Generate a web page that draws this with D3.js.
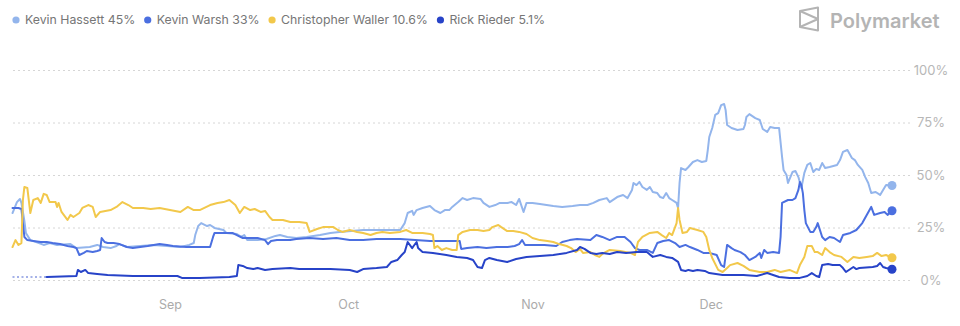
<!DOCTYPE html>
<html>
<head>
<meta charset="utf-8">
<script src="https://cdn.jsdelivr.net/npm/d3@7"></script>
<style>
  html, body { margin: 0; padding: 0; background: #fff; }
  svg { display: block; font-family: Inter, "Noto Sans", sans-serif; }
</style>
</head>
<body>
<svg id="chart" width="960" height="326"></svg>
<script>
// Chance of being nominated Fed chair, by candidate (percent), 2025.
const YEAR = 2025;
const NAMES = ["Kevin Hassett", "Kevin Warsh", "Christopher Waller", "Rick Rieder"];
const COLORS = ["#93b5ec", "#4b6fe0", "#f2c84b", "#2743c8"];

// [timestamp "MM-DD HH", percent]
const HASSETT = [["08-05 12",31.9],["08-06 06",37.1],["08-06 18",38.6],["08-07 00",36.7],["08-07 12",28.1],["08-07 18",22.4],["08-08 12",19],["08-09 12",18.1],["08-10 18",16.7],["08-11 18",17.6],["08-13 00",16.7],["08-15 06",17.1],["08-16 06",15.2],["08-18 12",15.7],["08-19 18",16.7],["08-20 18",15.7],["08-22 00",15.2],["08-23 00",16.2],["08-23 12",17.1],["08-24 18",15.7],["08-27 00",16.2],["08-29 06",16.7],["08-31 12",16.2],["09-02 18",15.7],["09-04 06",16.7],["09-05 00",17.6],["09-05 06",21.4],["09-05 18",25.7],["09-06 06",27.1],["09-07 06",25.7],["09-07 18",26.2],["09-08 12",24.8],["09-10 00",23.8],["09-10 12",22.4],["09-12 06",21.9],["09-13 00",20.5],["09-13 12",21.4],["09-14 00",19],["09-15 18",19],["09-17 06",19.5],["09-18 18",21],["09-19 12",21.4],["09-20 18",20.5],["09-22 06",20],["09-24 00",20.5],["09-26 06",21.4],["09-28 00",22.4],["09-29 12",22.9],["10-01 12",23.3],["10-03 12",23.8],["10-06 06",23.8],["10-09 18",23.8],["10-10 12",27.1],["10-11 00",31.9],["10-11 18",32.9],["10-12 00",31],["10-12 12",33.3],["10-13 12",34.3],["10-14 18",35.2],["10-15 12",33.3],["10-16 12",31.9],["10-17 06",33.3],["10-18 00",33.3],["10-18 12",34.8],["10-19 12",37.1],["10-20 06",39],["10-21 00",38.1],["10-22 00",39],["10-23 06",38.6],["10-23 18",36.7],["10-24 18",34.8],["10-25 18",35.7],["10-26 12",36.7],["10-27 18",36.7],["10-28 12",37.1],["10-29 06",35.7],["10-29 18",38.6],["10-30 12",32.4],["10-31 00",36.7],["11-01 00",36.7],["11-02 06",36.2],["11-04 12",35.2],["11-06 00",34.8],["11-07 18",35.2],["11-09 00",35.7],["11-10 06",35.7],["11-11 06",36.7],["11-12 06",38.1],["11-13 12",39],["11-14 00",37.1],["11-15 06",39.5],["11-16 06",40.5],["11-17 00",39],["11-17 18",42.9],["11-18 00",46.2],["11-18 12",45.2],["11-19 00",46.7],["11-19 12",44.3],["11-20 06",42.9],["11-20 18",44.3],["11-21 06",41.9],["11-22 00",41.4],["11-22 12",39.5],["11-23 00",39],["11-23 12",41.4],["11-24 00",39],["11-24 12",38.1],["11-25 06",36.7],["11-25 12",34.3],["11-25 18",46.2],["11-26 00",53.3],["11-26 18",52.4],["11-27 06",53.8],["11-28 00",56.2],["11-28 18",57.1],["11-29 12",56.2],["11-30 06",56.7],["11-30 12",61.9],["11-30 18",68.1],["12-01 06",72.4],["12-01 18",78.6],["12-02 06",79.5],["12-02 18",83.3],["12-03 06",83.8],["12-03 12",81],["12-03 18",73.8],["12-04 12",72.4],["12-05 12",71.4],["12-06 12",71.9],["12-06 18",73.8],["12-07 00",77.6],["12-07 12",79],["12-08 12",77.1],["12-09 06",76.2],["12-09 18",71.9],["12-10 12",70.5],["12-11 00",72.9],["12-11 18",72.4],["12-12 12",72.4],["12-13 00",58.6],["12-13 06",52.4],["12-13 18",50],["12-14 00",46.2],["12-14 18",51.4],["12-15 06",51.9],["12-15 18",49],["12-16 06",43.8],["12-16 18",51],["12-17 06",54.8],["12-17 18",55.7],["12-18 06",51.4],["12-18 18",52.9],["12-19 06",52.4],["12-19 18",55.7],["12-20 06",53.3],["12-21 00",53.8],["12-22 06",54.8],["12-22 18",57.1],["12-23 06",61],["12-24 00",61.9],["12-24 18",58.1],["12-25 06",57.1],["12-25 18",54.8],["12-26 12",52.4],["12-27 00",49],["12-27 12",46.2],["12-28 00",41.4],["12-28 18",41.9],["12-29 12",40.5],["12-30 00",42.9],["12-30 12",45.2],["12-31 12",45]];

const WARSH = [["08-05 12",34.3],["08-06 12",34.3],["08-07 00",33.8],["08-07 06",27.1],["08-07 12",20.5],["08-08 00",19],["08-09 00",18.6],["08-10 06",18.1],["08-11 06",18.1],["08-12 06",17.6],["08-13 12",17.1],["08-14 18",16.2],["08-15 18",15.7],["08-16 06",15.2],["08-16 18",11.9],["08-17 12",12.9],["08-18 00",13.8],["08-19 00",13.3],["08-19 18",13.8],["08-20 06",14.3],["08-20 12",20],["08-21 00",18.1],["08-21 12",17.6],["08-22 12",17.6],["08-23 12",17.1],["08-24 18",15.7],["08-25 18",15.2],["08-27 00",15.7],["08-28 06",16.2],["08-29 06",16.7],["08-30 06",17.1],["08-31 12",16.7],["09-01 12",16.2],["09-03 18",15.7],["09-06 00",15.7],["09-07 18",15.7],["09-08 06",20.5],["09-08 12",22.4],["09-10 00",22.4],["09-11 12",22.4],["09-12 12",21],["09-13 06",20],["09-15 18",20],["09-17 00",19],["09-17 12",17.1],["09-18 00",18.6],["09-19 00",19],["09-21 06",19],["09-22 06",19.5],["09-24 12",20],["09-26 18",19.5],["09-29 00",20],["10-01 06",19],["10-03 12",19],["10-05 18",19.5],["10-08 00",19.5],["10-09 18",19.5],["10-12 06",19],["10-14 18",18.6],["10-17 06",18.6],["10-19 18",18.6],["10-20 00",14.8],["10-21 00",15.2],["10-22 18",15.7],["10-24 06",15.2],["10-26 00",15.7],["10-27 18",15.7],["10-29 00",16.2],["10-29 18",17.1],["10-30 06",19],["10-30 18",16.7],["11-01 00",16.7],["11-03 00",16.7],["11-05 00",16.2],["11-06 00",18.1],["11-07 06",19],["11-08 12",19.5],["11-10 18",19],["11-11 18",21.4],["11-12 18",20.5],["11-14 00",19],["11-15 06",20.5],["11-16 12",20.5],["11-17 12",18.1],["11-18 06",15.2],["11-19 00",14.3],["11-20 06",14.3],["11-21 06",12.9],["11-22 00",17.6],["11-23 00",18.6],["11-24 00",19],["11-25 00",17.6],["11-25 18",15.7],["11-26 18",16.7],["11-27 12",15.7],["11-28 18",14.3],["11-29 18",12.9],["11-30 18",12.9],["12-02 00",11.9],["12-02 18",7.1],["12-03 06",6.2],["12-03 18",16.7],["12-04 12",15.2],["12-05 00",14.3],["12-06 00",13.3],["12-06 18",11.9],["12-07 12",9.5],["12-08 12",11],["12-09 06",12.9],["12-09 12",10.5],["12-10 00",14.3],["12-10 12",12.9],["12-11 12",13.3],["12-12 12",12.9],["12-12 18",20.5],["12-13 00",36.7],["12-14 00",38.1],["12-14 18",38.1],["12-15 06",39],["12-15 18",42.9],["12-16 00",46.7],["12-16 06",45.2],["12-16 12",41.4],["12-16 18",33.3],["12-17 00",27.1],["12-17 18",22.9],["12-18 06",22.9],["12-18 18",25.2],["12-19 00",27.1],["12-19 18",20.5],["12-20 06",19],["12-21 00",20.5],["12-21 18",20],["12-22 18",18.1],["12-23 06",21.4],["12-24 12",22.4],["12-25 12",23.8],["12-26 12",27.1],["12-27 06",31],["12-28 00",34.8],["12-28 12",31],["12-29 12",31.9],["12-30 06",32.4],["12-30 18",31],["12-31 12",33]];

const WALLER = [["08-05 12",15.7],["08-06 00",19],["08-06 12",16.7],["08-07 00",17.6],["08-07 06",38.1],["08-07 12",44.3],["08-08 00",43.8],["08-08 12",31.9],["08-09 00",38.1],["08-09 18",39],["08-10 06",36.7],["08-10 18",41],["08-11 06",40.5],["08-11 18",37.1],["08-12 18",37.1],["08-13 00",34.8],["08-13 06",36.7],["08-13 18",32.4],["08-14 06",30.5],["08-14 18",28.6],["08-15 06",31],["08-15 18",30],["08-16 18",31.9],["08-17 06",34.3],["08-18 06",35.7],["08-19 00",34.8],["08-19 12",30],["08-20 06",32.4],["08-22 00",33.3],["08-23 00",34.8],["08-24 00",37.1],["08-25 00",35.7],["08-25 18",34.3],["08-27 12",34.3],["08-28 18",33.8],["08-30 06",34.3],["09-01 00",33.3],["09-02 18",32.4],["09-04 00",34.8],["09-05 00",33.3],["09-06 00",33.3],["09-07 18",35.7],["09-09 00",36.7],["09-10 00",37.1],["09-11 00",38.1],["09-12 00",35.7],["09-12 18",31.9],["09-13 12",34.8],["09-14 12",33.3],["09-15 06",33.8],["09-16 06",32.4],["09-17 00",32.9],["09-17 18",30],["09-18 06",28.6],["09-20 00",28.6],["09-21 06",27.6],["09-22 18",27.6],["09-24 00",27.1],["09-24 12",22.9],["09-25 18",24.3],["09-26 18",25.2],["09-28 12",25.2],["09-29 06",23.8],["09-30 00",22.9],["10-01 06",23.8],["10-02 12",22.9],["10-03 12",22.4],["10-04 18",21.4],["10-05 18",22.4],["10-06 18",22.9],["10-08 00",22.4],["10-09 18",22.9],["10-10 18",23.8],["10-11 18",22.4],["10-13 12",22.4],["10-14 18",21.9],["10-15 06",21.4],["10-15 12",15.2],["10-16 00",16.2],["10-16 18",14.3],["10-17 12",15.2],["10-18 12",14.3],["10-19 06",14.3],["10-19 12",21.4],["10-20 06",22.9],["10-21 12",23.8],["10-22 18",23.8],["10-23 18",23.3],["10-24 18",23.8],["10-25 06",25.2],["10-26 06",26.2],["10-26 18",25.2],["10-27 18",23.3],["10-28 18",23.3],["10-29 18",22.9],["10-31 00",21.9],["11-01 00",20],["11-02 06",19],["11-03 12",18.6],["11-04 12",18.1],["11-05 12",17.1],["11-06 18",16.2],["11-07 12",15.2],["11-08 06",13.3],["11-09 00",14.8],["11-09 12",12.9],["11-10 18",13.3],["11-11 12",11.9],["11-12 06",11],["11-12 18",12.4],["11-14 00",14.3],["11-15 18",13.8],["11-17 12",12.9],["11-18 06",11.9],["11-18 18",18.1],["11-19 12",20.5],["11-20 18",22.4],["11-22 00",22.9],["11-22 18",21.4],["11-23 12",20],["11-24 00",22.4],["11-24 12",21.4],["11-25 06",27.1],["11-25 12",34.3],["11-25 18",28.6],["11-26 06",22.4],["11-27 00",22.9],["11-27 12",24.8],["11-28 18",23.8],["11-29 18",22.9],["11-30 06",20.5],["11-30 18",14.3],["12-01 06",10.5],["12-02 06",4.8],["12-03 00",3.8],["12-03 18",5.7],["12-04 06",7.1],["12-05 12",8.1],["12-06 12",6.7],["12-07 12",4.8],["12-09 06",3.8],["12-10 12",3.8],["12-11 18",4.8],["12-12 18",3.8],["12-14 06",4.8],["12-15 12",3.3],["12-16 00",7.1],["12-16 18",11],["12-17 06",16.2],["12-18 00",16.2],["12-18 12",13.3],["12-19 00",13.3],["12-19 18",11.9],["12-20 06",15.2],["12-21 00",13.3],["12-21 18",11.9],["12-23 00",11],["12-24 00",8.6],["12-25 00",11],["12-26 00",10.5],["12-27 06",11],["12-28 06",11.4],["12-29 00",12.9],["12-29 18",11.4],["12-30 12",11.9],["12-31 12",10.6]];

const RIEDER = [["08-11 06",1.4],["08-16 06",1.9],["08-16 12",4.8],["08-17 00",3.8],["08-17 18",4.8],["08-18 06",3.3],["08-19 18",2.9],["08-21 12",2.4],["08-25 18",1.9],["09-02 06",1.9],["09-03 00",1],["09-06 00",1],["09-11 00",1.4],["09-12 06",1.9],["09-12 12",7.1],["09-13 06",6.7],["09-14 00",5.7],["09-15 00",5.2],["09-15 18",5.7],["09-17 00",4.8],["09-18 06",5.2],["09-21 06",5.7],["09-22 18",5.2],["09-28 00",5.2],["10-01 06",4.8],["10-02 12",3.8],["10-03 12",5.2],["10-05 18",5.7],["10-07 12",6.2],["10-08 06",8.6],["10-09 06",9.5],["10-10 00",11.9],["10-10 12",13.3],["10-11 00",18.1],["10-11 18",15.2],["10-12 00",16.2],["10-12 12",18.1],["10-12 18",15.2],["10-13 12",13.3],["10-15 06",12.9],["10-17 12",11.9],["10-19 06",11],["10-21 00",10.5],["10-22 00",9.5],["10-22 18",6.2],["10-23 12",5.7],["10-24 00",9.5],["10-24 18",10.5],["10-26 00",9.5],["10-27 18",8.6],["10-29 06",10],["10-31 00",11],["11-02 06",11.4],["11-04 12",11.9],["11-06 18",12.9],["11-08 12",14.3],["11-09 00",15.7],["11-09 18",14.8],["11-10 18",12.9],["11-11 18",12.4],["11-12 18",12.9],["11-14 00",12.4],["11-15 06",13.3],["11-16 18",12.9],["11-18 12",13.3],["11-20 06",13.3],["11-21 06",11],["11-22 12",11.9],["11-23 12",11],["11-24 12",10.5],["11-25 12",8.6],["11-26 00",4.8],["11-26 18",4.3],["11-27 06",4.8],["11-28 00",4.3],["11-28 18",4.8],["11-30 00",4.3],["11-30 18",3.3],["12-03 00",2.4],["12-06 12",2.4],["12-08 18",1.9],["12-10 12",3.3],["12-11 12",2.4],["12-12 12",1.4],["12-14 06",1],["12-16 00",1],["12-17 06",1.9],["12-18 00",3.3],["12-18 18",1.9],["12-19 06",1.4],["12-19 18",7.1],["12-20 18",7.6],["12-21 12",7.1],["12-22 18",7.1],["12-23 06",5.7],["12-23 18",3.8],["12-25 00",6.2],["12-25 12",5.2],["12-26 00",5.7],["12-28 06",6.2],["12-29 00",6.7],["12-29 12",8.1],["12-30 00",6.2],["12-30 12",5.7],["12-31 12",5.1]];

const SERIES = [HASSETT, WARSH, WALLER, RIEDER];
const START = "08-05 12";
const END = "12-31 12";
const X_TICKS = ["09-01 00", "10-01 00", "11-01 00", "12-01 00"];
const Y_TICKS = [0, 25, 50, 75, 100];
const BRAND = "Polymarket";

const parseTime = d3.timeParse("%Y-%m-%d %H");
const t = s => parseTime(YEAR + "-" + s);

const svg = d3.select("#chart");
const plot = { left: 12.5, right: 892, gridRight: 910, top: 70, bottom: 280 };

const x = d3.scaleTime().domain([t(START), t(END)]).range([plot.left, plot.right]);
const y = d3.scaleLinear().domain([0, 100]).range([plot.bottom, plot.top]);

// dotted horizontal gridlines
const grid = svg.append("g")
  .attr("transform", `translate(${plot.gridRight},0)`)
  .call(d3.axisLeft(y).tickValues(Y_TICKS).tickSize(plot.gridRight - 12).tickFormat(""));
grid.select(".domain").remove();
grid.selectAll(".tick line")
  .attr("stroke", "#d6d6d6")
  .attr("stroke-width", 1)
  .attr("stroke-dasharray", "2,3");

// percent labels on the right
const yAxis = svg.append("g")
  .attr("transform", "translate(931,0)")
  .call(d3.axisRight(y).tickValues(Y_TICKS).tickFormat(d => d + "%").tickSize(0).tickPadding(0));
yAxis.select(".domain").remove();
yAxis.selectAll("text")
  .attr("text-anchor", "middle")
  .attr("fill", "#b7b7b7")
  .style("font-size", "13px")
  .style("font-family", 'Inter, "Noto Sans", sans-serif');

// month labels
const xAxis = svg.append("g")
  .attr("transform", "translate(0,296)")
  .call(d3.axisBottom(x).tickValues(X_TICKS.map(t)).tickFormat(d3.timeFormat("%b")).tickSize(0).tickPadding(4));
xAxis.select(".domain").remove();
xAxis.selectAll("text")
  .attr("fill", "#ababab")
  .style("font-size", "12.5px")
  .style("font-family", 'Inter, "Noto Sans", sans-serif');

const line = d3.line()
  .x(d => x(t(d[0])))
  .y(d => y(d[1]));

// series lines, legend order
SERIES.forEach((data, i) => {
  const first = data[0];
  if (first[0] !== START) {
    // no trading yet: dotted lead-in at the opening price
    svg.append("path")
      .attr("d", line([[START, first[1]], first]))
      .attr("fill", "none")
      .attr("stroke", COLORS[i])
      .attr("stroke-width", 1.5)
      .attr("stroke-dasharray", "2,2.5")
      .attr("opacity", 0.55);
  }
  svg.append("path")
    .attr("d", line(data))
    .attr("fill", "none")
    .attr("stroke", COLORS[i])
    .attr("stroke-width", 2)
    .attr("stroke-linejoin", "round")
    .attr("stroke-linecap", "round");
});

// current value markers
SERIES.forEach((data, i) => {
  const last = data[data.length - 1];
  svg.append("circle")
    .attr("cx", x(t(last[0])))
    .attr("cy", y(last[1]))
    .attr("r", 4.5)
    .attr("fill", COLORS[i]);
});

// legend
const legend = svg.append("g").attr("transform", "translate(0,20)");
let lx = 16;
SERIES.forEach((data, i) => {
  const last = data[data.length - 1];
  const g = legend.append("g").attr("transform", `translate(${lx},0)`);
  g.append("circle").attr("r", 3.6).attr("fill", COLORS[i]);
  const txt = g.append("text")
    .attr("x", 9)
    .attr("dy", "0.35em")
    .attr("fill", "#767676")
    .style("font-size", "12.3px")
    .text(`${NAMES[i]} ${last[1]}%`);
  lx += 9 + txt.node().getComputedTextLength() + 12.5;
});

// brand mark
const brand = svg.append("g").attr("fill", "none").attr("stroke", "#b4b4b4").attr("stroke-width", 2).attr("stroke-linejoin", "round");
brand.append("path").attr("d", "M800,11 L818,7.5 L818,30.5 L800,27 Z");
brand.append("path").attr("d", "M800,11 L818,19 L800,27");
svg.append("text")
  .attr("x", 830)
  .attr("y", 27.5)
  .attr("fill", "#b4b4b4")
  .style("font-size", "20px")
  .style("font-weight", 600)
  .text(BRAND);
</script>
</body>
</html>
